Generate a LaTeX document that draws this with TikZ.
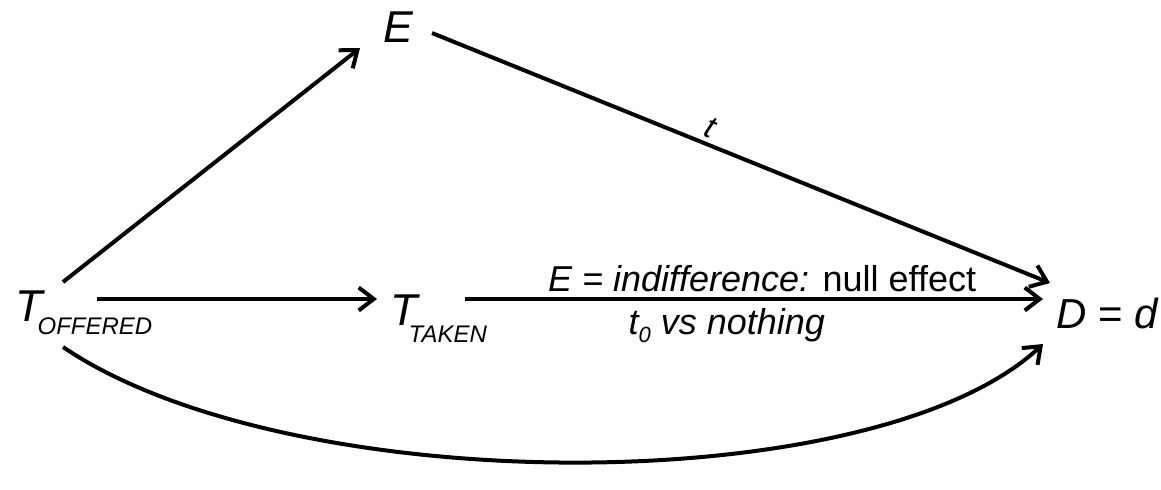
\documentclass[tikz,border=0pt]{standalone}
\usepackage{fontspec}
\setmainfont{Liberation Sans}
\usetikzlibrary{arrows.meta}

\begin{document}
\begin{tikzpicture}[x=0.5pt,y=-0.5pt,
  var/.style={inner sep=0pt,anchor=base west,font=\fontsize{22.3}{26}\selectfont\itshape},
  lab/.style={inner sep=0pt,anchor=base,font=\fontsize{18}{21}\selectfont},
  arr/.style={-{Straight Barb[length=7.5pt,width=11.5pt,line width=2pt]},line width=2pt,color=black}]
\useasboundingbox (0,0) rectangle (1161,489);
\node[var] (toff) at (15,321) {T\kern-2.5pt\raisebox{-6.5pt}{\fontsize{12}{14}\selectfont\itshape OFFERED}};
\node[var] (ttak) at (390,325) {T\kern-4.5pt\raisebox{-8.5pt}{\fontsize{12}{14}\selectfont\itshape TAKEN}};
\node[var] (e) at (383,42) {E};
\node[var,font=\fontsize{21}{25}\selectfont] (d) at (1056,328) {\textit{D} = \textit{d}};
\draw[arr] ([shift={(48,-39)}]toff.base west) -- ([shift={(-23,6)}]e.base west);
\draw[arr] ([shift={(49,-9)}]e.base west) -- node[pos=0.44,sloped,above,inner sep=2pt,font=\fontsize{16}{19}\selectfont\itshape]{t} ([shift={(-6,-45)}]d.base west);
\draw[arr] ([shift={(82,-22)}]toff.base west) -- ([shift={(-13,-26)}]ttak.base west);
\draw[arr] ([shift={(75,-26)}]ttak.base west) --
  node[lab,pos=0.514,yshift=4pt]{\textit{E = indifference:} null effect}
  node[lab,pos=0.453,yshift=-17.5pt]{\textit{t\raisebox{-4pt}{\fontsize{11}{13}\selectfont 0} vs nothing}}
  ([shift={(-13,-29)}]d.base west);
\draw[arr] ([shift={(48,26)}]toff.base west) .. controls +(227,154) and +(-168,157) .. ([shift={(-13,16)}]d.base west);
\end{tikzpicture}
\end{document}
